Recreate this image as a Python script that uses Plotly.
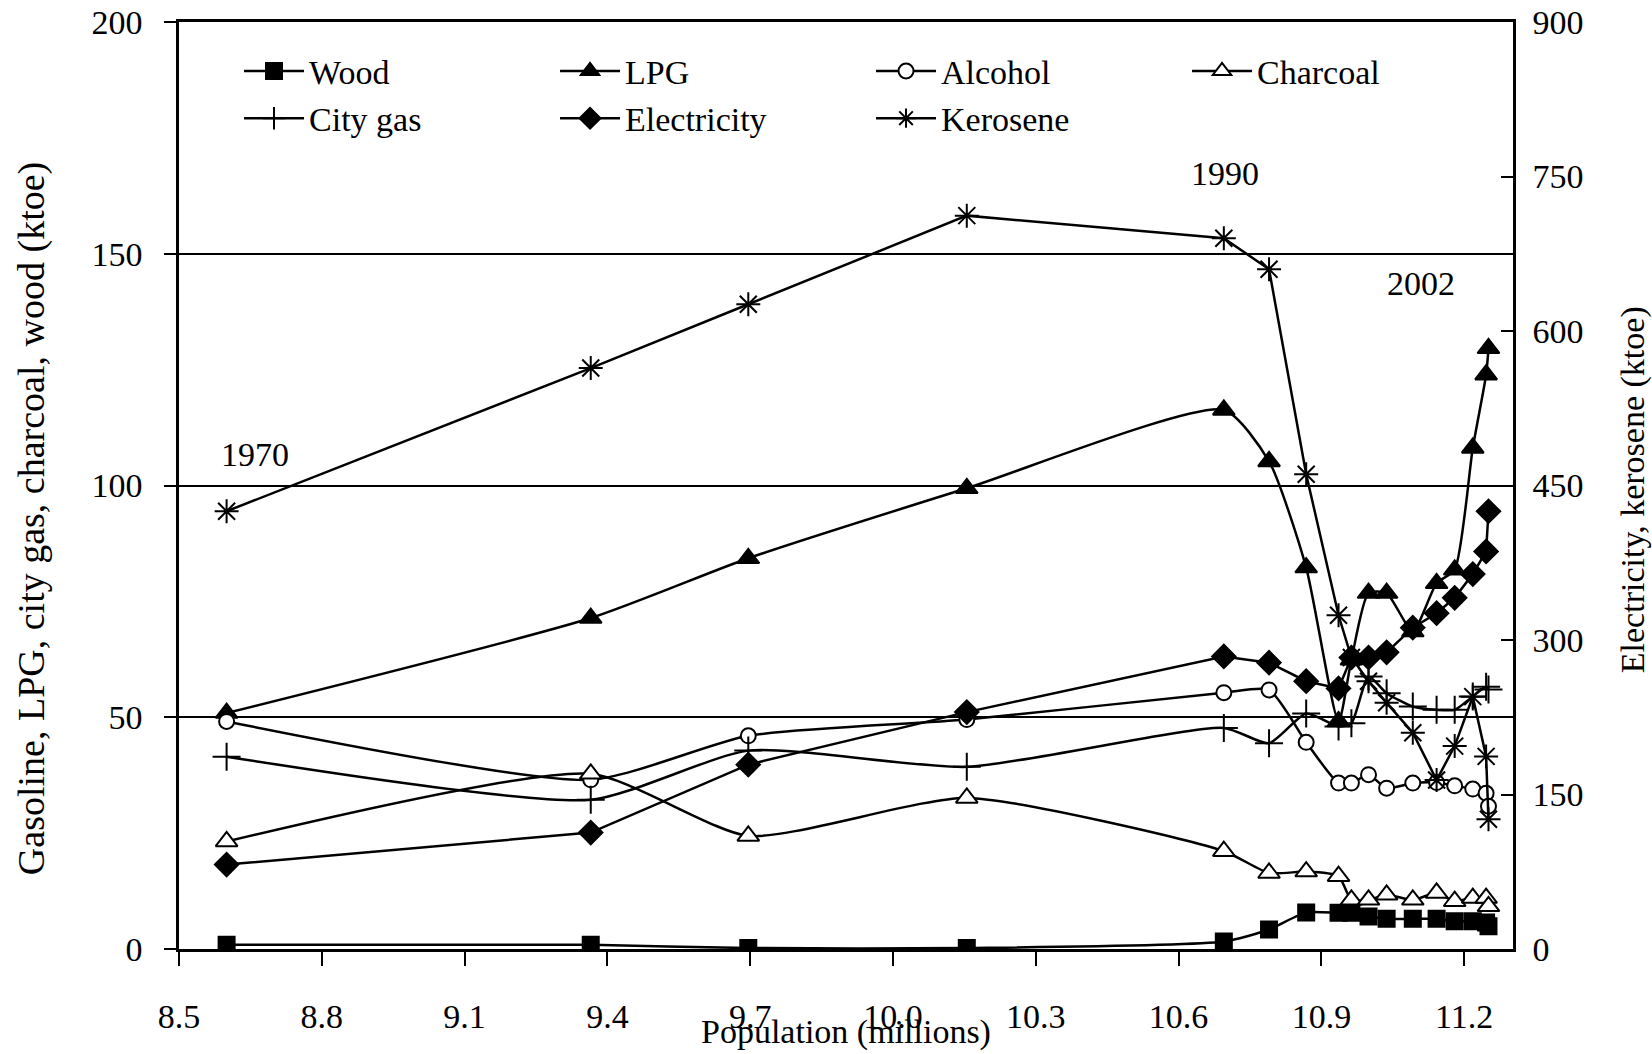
import plotly.graph_objects as go

population = [8.600, 9.365, 9.696, 10.155, 10.695, 10.790, 10.868, 10.936, 10.963,
              10.999, 11.037, 11.092, 11.142, 11.180, 11.218, 11.246, 11.251]

# left axis (ktoe)
wood = [0.9, 0.9, 0.2, 0.2, 1.6, 4.2, 7.9, 7.8, 7.8, 7.0, 6.5, 6.5, 6.5, 6.0, 6.0, 5.7, 4.9]
lpg = [50.9, 71.4, 84.3, 99.4, 116.3, 105.2, 82.3, 49.1, 62.4, 76.8, 76.8, 68.5, 78.9, 81.8, 108.1, 123.9, 129.6]
alcohol = [49.1, 36.5, 46.0, 49.5, 55.3, 55.9, 44.6, 35.8, 35.8, 37.6, 34.7, 35.8, 35.9, 35.2, 34.5, 33.6, 30.8]
charcoal = [23.2, 37.8, 24.4, 32.6, 21.1, 16.4, 16.7, 15.7, 10.6, 10.6, 11.7, 10.6, 12.1, 10.3, 11.0, 11.0, 9.2]
city_gas = [41.5, 32.2, 42.8, 39.3, 47.7, 44.4, 50.8, 48.0, 48.7, 58.8, 55.2, 52.3, 51.6, 51.6, 54.5, 56.6, 56.0]

# right axis (ktoe)
electricity = [82, 113, 179, 230, 284, 278, 260, 253, 283, 283, 288, 312, 326, 341, 364, 386, 425]
kerosene = [425, 564, 626, 712, 690, 660, 461, 324, 283, 260, 239, 210, 164, 197, 245, 187, 126]

year_labels = ["1970", "1990", "2002"]
year_label_pos = [(8.66, 106.6), (10.697, 167.3), (11.11, 143.5)]

x_ticks = [8.5, 8.8, 9.1, 9.4, 9.7, 10.0, 10.3, 10.6, 10.9, 11.2]
y_left_ticks = [0, 50, 100, 150, 200]
y_right_ticks = [0, 150, 300, 450, 600, 750, 900]

FONT = "Liberation Serif"
FS = 34
LW = 2.5

fig = go.Figure()

def add(name, y, symbol, size, fill, axis="y", shape="spline"):
    fig.add_trace(go.Scatter(
        x=population, y=y, name=name, mode="lines+markers", yaxis=axis,
        line=dict(color="black", width=LW, shape=shape, smoothing=0.6),
        marker=dict(symbol=symbol, size=size, color=fill,
                    line=dict(color="black", width=2)),
    ))

add("Wood", wood, "square", 16, "black")
add("LPG", lpg, "triangle-up", 19, "black")
add("Alcohol", alcohol, "circle", 15, "white")
add("Charcoal", charcoal, "triangle-up", 19, "white")
add("City gas", city_gas, "cross-thin-open", 20, "black")
add("Electricity", electricity, "diamond", 18, "black", axis="y2", shape="linear")
add("Kerosene", kerosene, "asterisk-open", 20, "black", axis="y2", shape="linear")

annotations = []
for t, (ax, ay) in zip(year_labels, year_label_pos):
    annotations.append(dict(x=ax, y=ay, xref="x", yref="y", text=t, showarrow=False,
                            font=dict(family=FONT, size=FS, color="black")))

annotations.append(dict(x=0.5, y=-0.1115, xref="paper", yref="paper",
                        text="Population (millions)", showarrow=False, borderpad=0,
                        yanchor="bottom", font=dict(family=FONT, size=FS, color="black")))
annotations.append(dict(x=-0.110, y=0.464, xref="paper", yref="paper",
                        text="Gasoline, LPG, city gas, charcoal, wood (ktoe)", showarrow=False,
                        textangle=-90, xanchor="center", yanchor="middle",
                        font=dict(family=FONT, size=38, color="black")))
annotations.append(dict(x=1.090, y=0.495, xref="paper", yref="paper",
                        text="Electricity, kerosene (ktoe)", showarrow=False,
                        textangle=-90, xanchor="center", yanchor="middle",
                        font=dict(family=FONT, size=FS, color="black")))

fig.update_layout(
    width=1652, height=1054,
    margin=dict(l=179, r=139, t=22, b=105, autoexpand=False),
    paper_bgcolor="white", plot_bgcolor="white",
    font=dict(family=FONT, size=FS, color="black"),
    showlegend=True,
    legend=dict(orientation="h", x=0.045, y=0.978, xanchor="left", yanchor="top",
                entrywidth=241, entrywidthmode="pixels",
                bgcolor="rgba(0,0,0,0)", font=dict(family=FONT, size=FS, color="black"),
                itemwidth=60),
    xaxis=dict(range=[8.5, 11.3025], tickvals=x_ticks, tickformat=".1f", automargin=False,
               showgrid=False, zeroline=False, showline=True, linecolor="black", linewidth=LW,
               mirror=True,
               ticks="outside", ticklen=14, tickwidth=2, tickcolor="black",
               ticklabelstandoff=21, tickfont=dict(family=FONT, size=FS, color="black")),
    yaxis=dict(range=[0, 200], tickvals=y_left_ticks, showgrid=True, gridcolor="black",
               automargin=False,
               gridwidth=2, zeroline=False, showline=True, linecolor="black", linewidth=LW,
               ticks="outside", ticklen=12, tickwidth=2, tickcolor="black",
               ticklabelstandoff=15, tickfont=dict(family=FONT, size=FS, color="black")),
    yaxis2=dict(range=[0, 900], tickvals=y_right_ticks, overlaying="y", side="right",
                automargin=False,
                showgrid=False, zeroline=False, showline=True, linecolor="black", linewidth=LW,
                ticks="inside", ticklen=12, tickwidth=2, tickcolor="black",
                ticklabelstandoff=10, tickfont=dict(family=FONT, size=FS, color="black")),
    annotations=annotations,
)

fig.write_html("out.html")
